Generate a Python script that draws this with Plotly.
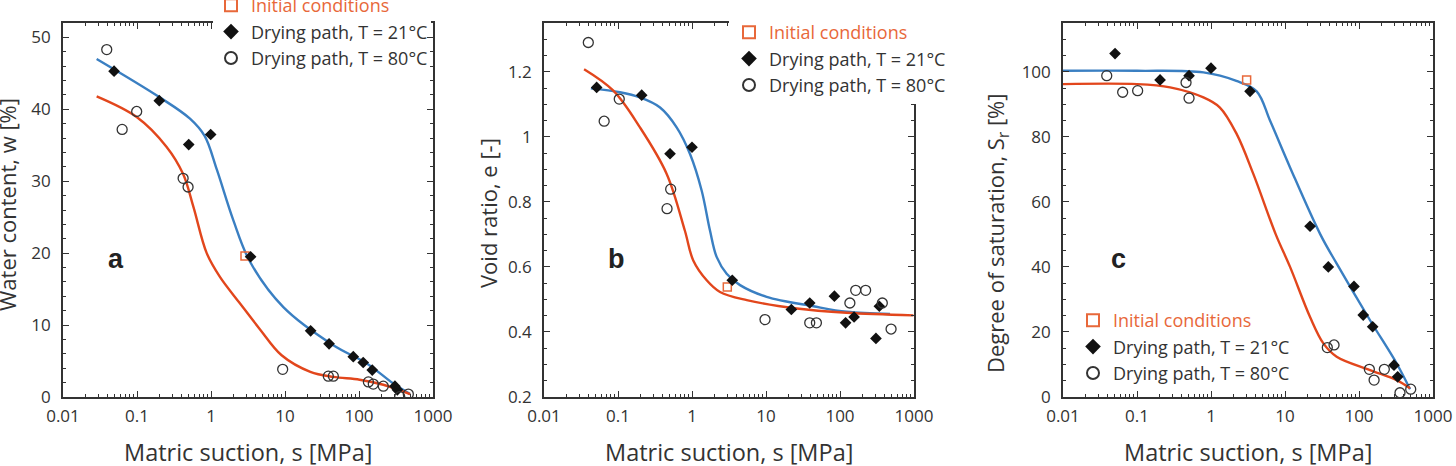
import plotly.graph_objects as go

# ---------------- data ----------------
# Panel a: water content
a_s21 = [0.049, 0.2, 0.5, 0.99, 3.43, 22.2, 39.4, 83.7, 114, 151, 306, 330]
a_w21 = [45.3, 41.2, 35.1, 36.5, 19.5, 9.2, 7.4, 5.6, 4.8, 3.75, 1.5, 1.0]
a_s80 = [0.039, 0.063, 0.099, 0.42, 0.49, 9.3, 38.5, 45, 134, 156, 213, 355, 464]
a_w80 = [48.3, 37.2, 39.7, 30.4, 29.2, 3.85, 2.9, 2.9, 2.1, 1.8, 1.5, 0.05, 0.4]
a_init_s = [2.88]
a_init_w = [19.6]
a_fit21_s = [0.0285, 0.2, 0.52, 0.82, 1.2, 2.0, 3.37, 9.5, 45, 126, 288, 490]
a_fit21_w = [47.0, 41.7, 38.7, 36.3, 31.6, 24.6, 18.8, 12.5, 7.2, 4.7, 1.9, 0.4]
a_fit80_s = [0.0285, 0.1, 0.25, 0.42, 0.58, 0.875, 1.32, 2.47, 4.6, 9.0, 22, 45, 102, 213, 490]
a_fit80_w = [41.8, 38.9, 34.8, 31.0, 26.4, 20.0, 16.7, 13.0, 9.4, 5.8, 3.5, 2.8, 2.4, 1.7, 0.4]

# Panel b: void ratio
b_s21 = [0.0515, 0.209, 0.505, 1.0, 3.5, 22, 39, 84, 119, 155, 306, 340]
b_e21 = [1.152, 1.128, 0.948, 0.968, 0.559, 0.469, 0.489, 0.51, 0.428, 0.446, 0.38, 0.479]
b_s80 = [0.0397, 0.065, 0.104, 0.515, 0.46, 9.7, 39, 48, 136, 163, 222, 373, 490]
b_e80 = [1.29, 1.048, 1.116, 0.839, 0.779, 0.438, 0.428, 0.428, 0.489, 0.528, 0.528, 0.489, 0.409]
b_init_s = [3.0]
b_init_e = [0.538]
b_fit21_s = [0.043, 0.106, 0.198, 0.37, 0.62, 0.94, 1.35, 1.75, 2.16, 2.94, 4.46, 10.2, 43.6, 123, 474]
b_fit21_e = [1.149, 1.137, 1.121, 1.09, 1.029, 0.947, 0.835, 0.712, 0.63, 0.579, 0.544, 0.508, 0.479, 0.462, 0.455]
b_fit80_s = [0.0348, 0.0865, 0.198, 0.455, 0.80, 1.04, 1.58, 2.39, 5.5, 26, 123, 980]
b_fit80_e = [1.208, 1.142, 1.029, 0.886, 0.712, 0.62, 0.559, 0.523, 0.498, 0.472, 0.459, 0.451]

# Panel c: degree of saturation
c_s21 = [0.0505, 0.205, 0.505, 1.0, 3.37, 21.8, 38.5, 85.5, 114, 153, 297, 333]
c_S21 = [105.6, 97.5, 98.8, 101.1, 94.0, 52.5, 40.0, 34.0, 25.2, 21.6, 9.8, 6.2]
c_s80 = [0.039, 0.064, 0.102, 0.46, 0.505, 37.3, 46, 138, 160, 220, 358, 500]
c_S80 = [98.8, 93.7, 94.2, 96.7, 91.9, 15.2, 16.0, 8.5, 5.2, 8.5, 1.3, 2.4]
c_init_s = [3.03]
c_init_S = [97.5]
c_fit21_s = [0.01, 0.1, 0.79, 2.2, 4.14, 6.27, 11.7, 30, 50, 141, 323, 489]
c_fit21_S = [100.3, 100.3, 99.8, 97.2, 94.0, 85.0, 70.6, 50.0, 41.0, 23.6, 10.3, 2.4]
c_fit80_s = [0.01, 0.1, 0.28, 0.79, 1.32, 2.22, 3.73, 7.5, 11.7, 21.8, 33, 49.9, 141, 323, 489]
c_fit80_S = [96.2, 96.2, 95.2, 92.1, 89.0, 80.9, 68.6, 50.0, 40.0, 24.6, 16.5, 12.4, 8.3, 5.2, 2.7]

x_tickvals = [0.01, 0.1, 1, 10, 100, 1000]
x_ticktext = ["0.01", "0.1", "1", "10", "100", "1000"]

# ---------------- style ----------------
W, H = 1456, 466
FONT = "Open Sans"
BLUE = "#3a7fc2"
RED = "#e2461c"
ORANGE = "#e8683a"
DARK = "#333333"

x_dom = [(63, 433), (544, 914), (1063, 1433)]
y_top, y_bot = 23, 397
ydom = [1 - y_bot / H, 1 - y_top / H]

panels = [
    dict(s21=a_s21, v21=a_w21, s80=a_s80, v80=a_w80, si=a_init_s, vi=a_init_w,
         f21s=a_fit21_s, f21v=a_fit21_w, f80s=a_fit80_s, f80v=a_fit80_w,
         yrange=[0, 52], dtick=10, minor=2, tick0=0),
    dict(s21=b_s21, v21=b_e21, s80=b_s80, v80=b_e80, si=b_init_s, vi=b_init_e,
         f21s=b_fit21_s, f21v=b_fit21_e, f80s=b_fit80_s, f80v=b_fit80_e,
         yrange=[0.2, 1.35], dtick=0.2, minor=0.05, tick0=0.2),
    dict(s21=c_s21, v21=c_S21, s80=c_s80, v80=c_S80, si=c_init_s, vi=c_init_S,
         f21s=c_fit21_s, f21v=c_fit21_S, f80s=c_fit80_s, f80v=c_fit80_S,
         yrange=[0, 115], dtick=20, minor=5, tick0=0),
]

fig = go.Figure()
legend_names = ["legend", "legend2", "legend3"]

for i, p in enumerate(panels):
    xa = "x" if i == 0 else f"x{i+1}"
    ya = "y" if i == 0 else f"y{i+1}"
    lg = legend_names[i]
    fig.add_trace(go.Scatter(x=p["f21s"], y=p["f21v"], mode="lines", xaxis=xa, yaxis=ya,
                             line=dict(color=BLUE, width=2.4, shape="spline", smoothing=1.0),
                             showlegend=False, hoverinfo="skip"))
    fig.add_trace(go.Scatter(x=p["f80s"], y=p["f80v"], mode="lines", xaxis=xa, yaxis=ya,
                             line=dict(color=RED, width=2.4, shape="spline", smoothing=1.0),
                             showlegend=False, hoverinfo="skip"))
    fig.add_trace(go.Scatter(x=p["si"], y=p["vi"], mode="markers", xaxis=xa, yaxis=ya,
                             name=f"<span style='color:{ORANGE}'>Initial conditions</span>",
                             marker=dict(symbol="square-open", size=8, color=ORANGE,
                                         line=dict(width=1.5, color=ORANGE)),
                             legend=lg, legendgroup=f"{i}a"))
    fig.add_trace(go.Scatter(x=p["s21"], y=p["v21"], mode="markers", xaxis=xa, yaxis=ya,
                             name="Drying path, T = 21°C",
                             marker=dict(symbol="diamond", size=9, color="#111111"),
                             legend=lg, legendgroup=f"{i}b"))
    fig.add_trace(go.Scatter(x=p["s80"], y=p["v80"], mode="markers", xaxis=xa, yaxis=ya,
                             name="Drying path, T = 80°C",
                             marker=dict(symbol="circle-open", size=10, color=DARK,
                                         line=dict(width=1.3, color=DARK)),
                             legend=lg, legendgroup=f"{i}c"))

layout = dict(
    width=W, height=H,
    margin=dict(l=0, r=0, t=0, b=0, autoexpand=False),
    paper_bgcolor="white", plot_bgcolor="white",
    font=dict(family=FONT, color=DARK),
)

TICKFONT = dict(size=17, family=FONT, color=DARK)
for i, p in enumerate(panels):
    sx = "" if i == 0 else str(i + 1)
    x0, x1 = x_dom[i]
    layout[f"xaxis{sx}"] = dict(
        type="log", range=[-2, 3], domain=[x0 / W, x1 / W], anchor=f"y{sx}",
        showline=True, linecolor=DARK, linewidth=1.6, mirror="ticks",
        ticks="inside", ticklen=6, tickwidth=1.2, tickcolor=DARK,
        tickvals=x_tickvals, ticktext=x_ticktext, showgrid=False, zeroline=False,
        tickfont=TICKFONT, ticklabelstandoff=3, automargin=False,
        minor=dict(ticks="inside", ticklen=3, tickwidth=1, tickcolor=DARK, showgrid=False,
                   tickvals=[m * 10 ** k for k in range(-2, 3) for m in range(2, 10)]),
    )
    layout[f"yaxis{sx}"] = dict(
        range=p["yrange"], domain=ydom, anchor=f"x{sx}",
        showline=True, linecolor=DARK, linewidth=1.6, mirror="ticks",
        ticks="inside", ticklen=6, tickwidth=1.2, tickcolor=DARK,
        dtick=p["dtick"], tick0=p["tick0"], showgrid=False, zeroline=False,
        tickfont=TICKFONT, ticklabelstandoff=7, automargin=False,
        minor=dict(ticks="inside", ticklen=3, tickwidth=1, tickcolor=DARK, showgrid=False,
                   dtick=p["minor"]),
    )

leg_common = dict(font=dict(size=18, family=FONT, color=DARK), xanchor="left", yanchor="top",
                  tracegroupgap=0, borderwidth=0, itemsizing="constant")
layout["legend"] = dict(leg_common, x=211 / W, y=1 + 13 / H, bgcolor="rgba(0,0,0,0)")
layout["legend2"] = dict(leg_common, x=729 / W, y=1 - 14 / H, bgcolor="white")
layout["legend3"] = dict(leg_common, x=1073 / W, y=1 - 302 / H, bgcolor="rgba(0,0,0,0)")

# white band hiding the top frame of panel a behind its legend (as in the original)
layout["shapes"] = [dict(type="rect", xref="paper", yref="paper", layer="above",
                         x0=213 / W, x1=431 / W, y0=1 - 30 / H, y1=1 - 17 / H,
                         fillcolor="white", line=dict(width=0))]

ann = []
titles_y = ["Water content, w [%]", "Void ratio, e [-]", "Degree of saturation, S<sub>r</sub> [%]"]
title_x = [7, 488, 997]
title_yc = [205, 213, 234]
labels = ["a", "b", "c"]
label_x = [116, 616, 1118]
for i in range(3):
    x0, x1 = x_dom[i]
    ann.append(dict(text="Matric suction, s [MPa]", x=(x0 + x1) / 2 / W, y=1 - 452 / H,
                    xref="paper", yref="paper", showarrow=False, xanchor="center", yanchor="middle",
                    font=dict(size=23.5, family=FONT, color=DARK)))
    ann.append(dict(text=titles_y[i], x=title_x[i] / W, y=1 - title_yc[i] / H, textangle=-90,
                    xref="paper", yref="paper", showarrow=False, xanchor="center", yanchor="middle",
                    font=dict(size=22, family=FONT, color=DARK)))
    ann.append(dict(text=f"<b>{labels[i]}</b>", x=label_x[i] / W, y=1 - 259 / H,
                    xref="paper", yref="paper", showarrow=False, xanchor="center", yanchor="middle",
                    font=dict(size=27, family="Liberation Sans", color="#222222")))
layout["annotations"] = ann

fig.update_layout(**layout)
fig.write_html("out.html")
